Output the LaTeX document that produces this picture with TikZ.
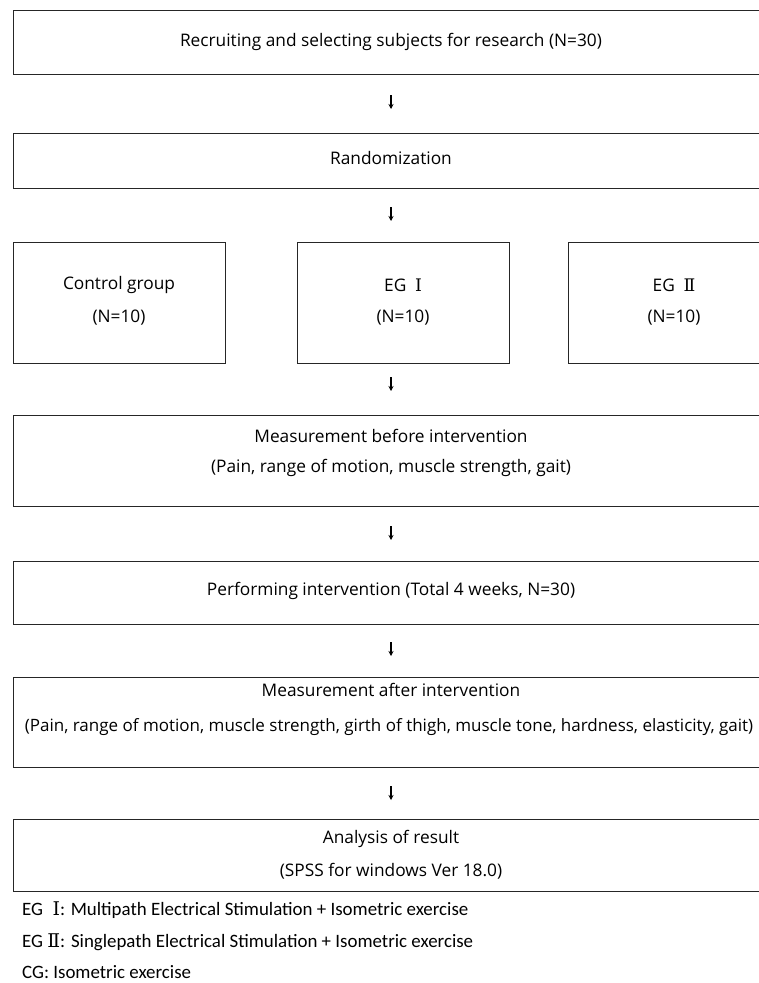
\documentclass[tikz,border=0pt]{standalone}
\usepackage{fontspec}
\setmainfont{Open Sans}
\newfontfamily\legendfont{Carlito}
\newfontfamily\romfont{DejaVu Serif}
\usetikzlibrary{arrows.meta}
\begin{document}
\begin{tikzpicture}[x=1pt,y=-1pt,
 box/.style={draw=black!85, line width=1.3pt, inner sep=0pt, anchor=north west},
 txt/.style={font=\fontsize{17.3}{20}\selectfont, inner sep=0pt, anchor=center},
 leg/.style={font=\legendfont\fontsize{18.9}{21}\selectfont, inner sep=0pt, anchor=west},
 dn/.style={line width=1.2pt, -{Stealth[length=5pt,width=5pt]}}]
\useasboundingbox (0,0) rectangle (759,983);
% boxes
\node[box, minimum width=756pt, minimum height=64pt] (b1) at (13,10) {};
\node[box, minimum width=756pt, minimum height=55pt] (b2) at (13,133) {};
\node[box, minimum width=212pt, minimum height=121pt] (g1) at (13,242) {};
\node[box, minimum width=212pt, minimum height=121pt] (g2) at (297,242) {};
\node[box, minimum width=212pt, minimum height=121pt] (g3) at (568,242) {};
\node[box, minimum width=756pt, minimum height=91pt] (b4) at (13,415) {};
\node[box, minimum width=756pt, minimum height=63pt] (b5) at (13,561) {};
\node[box, minimum width=756pt, minimum height=90pt] (b6) at (13,677) {};
\node[box, minimum width=756pt, minimum height=72pt] (b7) at (13,819) {};
% texts
\node[txt] (t1) at (391,42) {Recruiting and selecting subjects for research (N=30)};
\node[txt] (t2) at (391,158) {Randomization};
\node[txt] (t3a) at (119,285) {Control group};
\node[txt] (t3b) at (119,318) {(N=10)};
\node[txt] (t4a) at (403,285) {EG\enspace{\romfont Ⅰ}};
\node[txt] (t4b) at (403,318) {(N=10)};
\node[txt] (t5a) at (674,285) {EG\enspace{\romfont Ⅱ}};
\node[txt] (t5b) at (674,318) {(N=10)};
\node[txt] (t6a) at (391,436) {Measurement before intervention};
\node[txt] (t6b) at (391,468) {(Pain, range of motion, muscle strength, gait)};
\node[txt] (t7) at (391,591) {Performing intervention (Total 4 weeks, N=30)};
\node[txt] (t8a) at (391,690) {Measurement after intervention};
\node[txt, font=\fontsize{17}{20}\selectfont] (t8b) at (389,727) {(Pain, range of motion, muscle strength, girth of thigh, muscle tone, hardness, elasticity, gait)};
\node[txt] (t9a) at (391,839) {Analysis of result};
\node[txt] (t9b) at (391,871) {(SPSS for windows Ver 18.0)};
% legend
\node[leg] (l1) at (22,910) {EG\enspace{\romfont Ⅰ}: Multipath Electrical Stimulation + Isometric exercise};
\node[leg] (l2) at (22,942) {EG {\romfont Ⅱ}: Singlepath Electrical Stimulation + Isometric exercise};
\node[leg] (l3) at (22,972) {CG: Isometric exercise};
% arrows
\coordinate (a1s) at (391,95);  \coordinate (a1e) at (391,109);
\coordinate (a2s) at (391,207); \coordinate (a2e) at (391,221);
\coordinate (a3s) at (391,377); \coordinate (a3e) at (391,391);
\coordinate (a4s) at (391,526); \coordinate (a4e) at (391,540);
\coordinate (a5s) at (391,642); \coordinate (a5e) at (391,656);
\coordinate (a6s) at (391,786); \coordinate (a6e) at (391,800);
\foreach \i in {1,...,6} {\draw[dn] (a\i s) -- (a\i e);}
\end{tikzpicture}
\end{document}
